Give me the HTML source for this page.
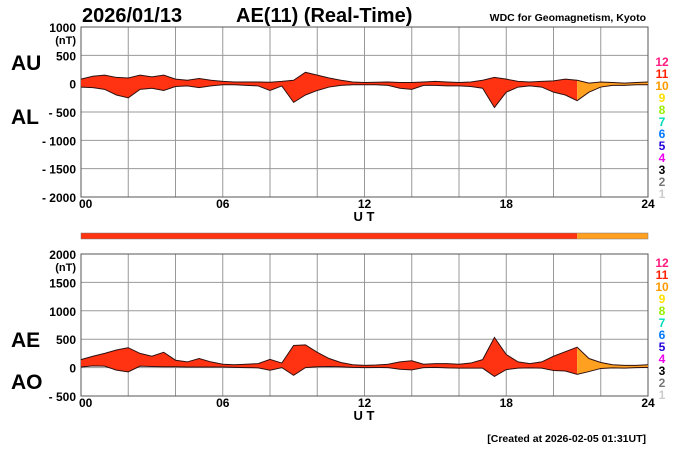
<!DOCTYPE html>
<html><head><meta charset="utf-8"><style>
html,body{margin:0;padding:0;background:#fff;}
svg{display:block;font-family:"Liberation Sans",sans-serif;font-weight:bold;}
</style></head><body>
<svg id="c" width="700" height="450" viewBox="0 0 700 450" xmlns="http://www.w3.org/2000/svg"></svg>
<script>
// half-hourly values 00:00 .. 24:00
const hours = [0,0.5,1,1.5,2,2.5,3,3.5,4,4.5,5,5.5,6,6.5,7,7.5,8,8.5,9,9.5,10,10.5,11,11.5,12,12.5,13,13.5,14,14.5,15,15.5,16,16.5,17,17.5,18,18.5,19,19.5,20,20.5,21,21.5,22,22.5,23,23.5,24];
const auValues = [80,130,150,110,100,150,120,150,80,60,90,60,40,30,30,30,25,40,60,200,150,100,60,30,20,25,30,20,20,30,40,30,20,30,60,110,80,40,30,40,50,80,60,10,30,20,10,20,30];
const alValues = [-60,-70,-100,-200,-250,-100,-80,-120,-50,-40,-70,-40,-20,-20,-30,-40,-120,-40,-330,-200,-120,-60,-30,-20,-20,-20,-30,-80,-100,-30,-30,-40,-40,-50,-80,-420,-150,-60,-40,-60,-150,-200,-300,-150,-60,-30,-30,-20,-20];
const stationCounts = [11,11,11,11,11,11,11,11,11,11,11,11,11,11,11,11,11,11,11,11,11,11,11,11,11,11,11,11,11,11,11,11,11,11,11,11,11,11,11,11,11,11,10,10,10,10,10,10,10];
const topTicks = ["1000","500","0","- 500","- 1000","- 1500","- 2000"];
const botTicks = ["2000","1500","1000","500","0","- 500"];
const xTicks = ["00","06","12","18","24"];
const legendNums = ["12","11","10","9","8","7","6","5","4","3","2","1"];
const legendColors = ["#ff1a80","#ff2000","#ff9900","#ffe000","#99ee00","#00ddbb","#0077ff","#2200dd","#ee00ee","#000","#777","#ccc"];

const svg = document.getElementById('c');
const NS = "http://www.w3.org/2000/svg";
function mk(tag, attrs, text){const e=document.createElementNS(NS,tag);for(const k in attrs)e.setAttribute(k,attrs[k]);if(text!==undefined)e.textContent=text;svg.appendChild(e);return e;}
const X0=81,X1=648;
const xs=h=>X0+(X1-X0)*h/24;
const yTop=v=>27+(1000-v)*170/3000;
const yBot=v=>254+(2000-v)*142/2500;
const colorFor=n=>n>=11?"#ff3311":"#ffa020";

function grid(y0,y1,nH,name){
  for(let i=0;i<=12;i++){const l=mk('line',{x1:xs(i*2),x2:xs(i*2),y1:y0,y2:y1,stroke:'#999','stroke-width':1});}
  for(let i=0;i<=nH;i++){const y=y0+(y1-y0)*i/nH;const l=mk('line',{x1:X0,x2:X1,y1:y,y2:y,stroke:'#999','stroke-width':1});}
  const f=mk('rect',{x:X0,y:y0,width:X1-X0,height:y1-y0,fill:'none',stroke:'#555'});
}
function band(upper,lower,ys,name){
  // segments by station count
  let start=0;
  for(let i=1;i<=hours.length;i++){
    if(i===hours.length||stationCounts[i]!==stationCounts[start]){
      const end=Math.min(i,hours.length-1);
      let pts=[];
      for(let j=start;j<=end;j++)pts.push(xs(hours[j])+','+ys(upper[j]));
      for(let j=end;j>=start;j--)pts.push(xs(hours[j])+','+ys(lower[j]));
      const p=mk('polygon',{points:pts.join(' '),fill:colorFor(stationCounts[start]),stroke:'none'});
      
      
      start=i;
    }
  }
  [upper,lower].forEach((arr,k)=>{
    const pl=mk('polyline',{points:arr.map((v,j)=>xs(hours[j])+','+ys(v)).join(' '),fill:'none',stroke:'#301010','stroke-width':1});
    
    
  });
}
function xlabels(y,name){
  xTicks.forEach((t,i)=>{const e=mk('text',{x:xs(i*6)+(i===0?-2:0),y:y,'font-size':12,'text-anchor':i===0?'start':'middle'},t);});
  const u=mk('text',{x:364,y:y+13,'font-size':13,'text-anchor':'middle'},'U T');
}

// titles
let t=mk('text',{x:82,y:22,'font-size':20},'2026/01/13');
t=mk('text',{x:236,y:22,'font-size':20},'AE(11) (Real-Time)');
t=mk('text',{x:646,y:21,'font-size':10.5,'text-anchor':'end'},'WDC for Geomagnetism, Kyoto');

// top panel
grid(27,197,6,'au-al');
band(auValues,alValues,yTop,'au-al');
topTicks.forEach((s,i)=>{const e=mk('text',{x:76,y:27+i*170/6+5,'font-size':12,'text-anchor':'end'},s);});
t=mk('text',{x:76,y:44,'font-size':11,'text-anchor':'end'},'(nT)');
t=mk('text',{x:11,y:70,'font-size':21},'AU');
t=mk('text',{x:11,y:124,'font-size':21},'AL');
xlabels(208,'au-al');

// legend
legendNums.forEach((s,i)=>{const e=mk('text',{x:662,y:66+i*12,'font-size':12,'text-anchor':'middle',fill:legendColors[i]},s);});
legendNums.forEach((s,i)=>{const e=mk('text',{x:662,y:324+i*12-57,'font-size':12,'text-anchor':'middle',fill:legendColors[i]},s);});

// station bar
let start=0;
for(let i=1;i<=hours.length;i++){
  if(i===hours.length||stationCounts[i]!==stationCounts[start]){
    const end=Math.min(i,hours.length-1);
    const r=mk('rect',{x:xs(hours[start]),y:233,width:xs(hours[end])-xs(hours[start]),height:6,fill:colorFor(stationCounts[start])});
    
    
    start=i;
  }
}
const bf=mk('rect',{x:X0,y:233,width:X1-X0,height:6,fill:'none',stroke:'#777','stroke-width':0.5});

// bottom panel
const aeValues=auValues.map((v,i)=>v-alValues[i]);
const aoValues=auValues.map((v,i)=>(v+alValues[i])/2);
grid(254,396,5,'ae-ao');
band(aeValues,aoValues,yBot,'ae-ao');
botTicks.forEach((s,i)=>{const e=mk('text',{x:76,y:254+i*142/5+5,'font-size':12,'text-anchor':'end'},s);});
t=mk('text',{x:76,y:271,'font-size':11,'text-anchor':'end'},'(nT)');
t=mk('text',{x:11,y:347,'font-size':21},'AE');
t=mk('text',{x:11,y:389,'font-size':21},'AO');
xlabels(407,'ae-ao');
t=mk('text',{x:646,y:442,'font-size':10.5,'text-anchor':'end'},'[Created at 2026-02-05 01:31UT]');
</script>
</body></html>
